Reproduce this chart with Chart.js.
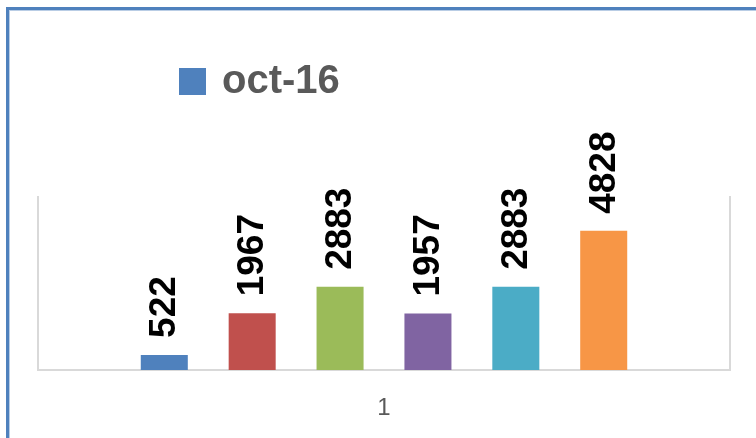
<!DOCTYPE html>
<html>
<head>
<meta charset="utf-8">
<script src="https://cdn.jsdelivr.net/npm/chart.js@4.4.1/dist/chart.umd.min.js"></script>
<style>
  html, body { margin: 0; padding: 0; background: #fff; }
  #wrap { position: relative; width: 756px; height: 438px; overflow: hidden; }
  #frame {
    position: absolute; left: 6px; top: 7px; width: 800px; height: 480px;
    border-top: 3px solid #4f81bd; border-left: 3px solid #4f81bd;
    box-shadow: inset 1px 1px 0 #b9cde5;
  }
  canvas { position: absolute; left: 0; top: 0; }
</style>
</head>
<body>
<div id="wrap">
  <div id="frame"></div>
  <canvas id="grafico" width="756" height="438"></canvas>
</div>
<script>
// dados do gráfico
const categorias = ['1'];
const series = ['oct-16', '', '', '', '', ''];
const valores = [522, 1967, 2883, 1957, 2883, 4828];
const cores = ['#4f81bd', '#c0504d', '#9bbb59', '#8064a2', '#4bacc6', '#f79646'];
const eixoY = { min: 0, max: 6000 };

// legenda desenhada à mão (só a primeira série aparece)
const legendaPlugin = {
  id: 'legendaManual',
  afterDraw(chart) {
    const ctx = chart.ctx;
    const ds = chart.data.datasets[0];
    ctx.save();
    ctx.fillStyle = ds.backgroundColor;
    ctx.fillRect(179, 68, 27, 27);
    ctx.fillStyle = '#595959';
    ctx.font = 'bold 40px "Liberation Sans", Arial, sans-serif';
    ctx.textBaseline = 'alphabetic';
    ctx.textAlign = 'left';
    ctx.fillText(ds.label, 222, 93);
    ctx.restore();
  }
};

// rótulos de valor girados acima de cada barra
const rotulosPlugin = {
  id: 'rotulos',
  afterDatasetsDraw(chart) {
    const ctx = chart.ctx;
    ctx.save();
    ctx.fillStyle = '#000';
    ctx.font = 'bold 37px "Liberation Sans", Arial, sans-serif';
    ctx.textAlign = 'left';
    ctx.textBaseline = 'middle';
    chart.data.datasets.forEach((ds, i) => {
      const bar = chart.getDatasetMeta(i).data[0];
      ctx.save();
      ctx.translate(bar.x + 1, bar.y - 17);
      ctx.rotate(-Math.PI / 2);
      ctx.fillText(String(ds.data[0]), 0, 0);
      ctx.restore();
    });
    ctx.restore();
  }
};

const ctx = document.getElementById('grafico').getContext('2d');
const grafico = new Chart(ctx, {
  type: 'bar',
  data: {
    labels: categorias,
    datasets: valores.map((v, i) => ({
      label: series[i],
      data: [v],
      backgroundColor: cores[i],
      borderWidth: 0,
      categoryPercentage: 0.762,
      barPercentage: 0.535
    }))
  },
  options: {
    responsive: false,
    animation: false,
    layout: { padding: { top: 197, left: 37, right: 25, bottom: 0 } },
    plugins: { legend: { display: false }, tooltip: { enabled: false } },
    scales: {
      x: {
        grid: { display: false, drawTicks: false },
        border: { display: true, color: '#d9d9d9', width: 2 },
        ticks: { color: '#595959', font: { family: '"Liberation Sans", Arial, sans-serif', size: 24 }, padding: 24 },
        afterFit(scale) { scale.height = 68; }
      },
      y: {
        min: eixoY.min, max: eixoY.max,
        grid: { display: false, drawTicks: false },
        border: { display: true, color: '#d9d9d9', width: 2 },
        ticks: { display: false },
        afterFit(scale) { scale.width = 1; }
      },
      y2: {
        position: 'right',
        min: eixoY.min, max: eixoY.max,
        grid: { display: false, drawTicks: false },
        border: { display: true, color: '#d9d9d9', width: 2 },
        ticks: { display: false },
        afterFit(scale) { scale.width = 1; }
      }
    }
  },
  plugins: [legendaPlugin, rotulosPlugin]
});
</script>
</body>
</html>
